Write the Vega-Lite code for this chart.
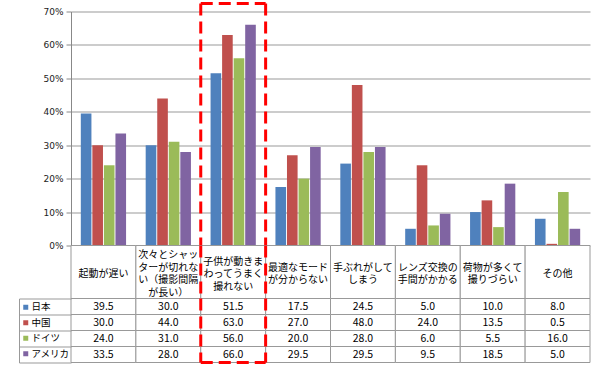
{
  "$schema": "https://vega.github.io/schema/vega-lite/v6.json",
  "background": "white",
  "padding": {"left": 18, "top": 1.5, "right": 5, "bottom": 4},
  "spacing": 0,
  "bounds": "flush",
  "datasets": {
    "d": [
      {"c": "起動が遅い", "s": "日本", "v": 39.5},
      {"c": "次々とシャッターが切れない（撮影間隔が長い）", "s": "日本", "v": 30.0},
      {"c": "子供が動きまわってうまく撮れない", "s": "日本", "v": 51.5},
      {"c": "最適なモードが分からない", "s": "日本", "v": 17.5},
      {"c": "手ぶれがしてしまう", "s": "日本", "v": 24.5},
      {"c": "レンズ交換の手間がかかる", "s": "日本", "v": 5.0},
      {"c": "荷物が多くて撮りづらい", "s": "日本", "v": 10.0},
      {"c": "その他", "s": "日本", "v": 8.0},
      {"c": "起動が遅い", "s": "中国", "v": 30.0},
      {"c": "次々とシャッターが切れない（撮影間隔が長い）", "s": "中国", "v": 44.0},
      {"c": "子供が動きまわってうまく撮れない", "s": "中国", "v": 63.0},
      {"c": "最適なモードが分からない", "s": "中国", "v": 27.0},
      {"c": "手ぶれがしてしまう", "s": "中国", "v": 48.0},
      {"c": "レンズ交換の手間がかかる", "s": "中国", "v": 24.0},
      {"c": "荷物が多くて撮りづらい", "s": "中国", "v": 13.5},
      {"c": "その他", "s": "中国", "v": 0.5},
      {"c": "起動が遅い", "s": "ドイツ", "v": 24.0},
      {"c": "次々とシャッターが切れない（撮影間隔が長い）", "s": "ドイツ", "v": 31.0},
      {"c": "子供が動きまわってうまく撮れない", "s": "ドイツ", "v": 56.0},
      {"c": "最適なモードが分からない", "s": "ドイツ", "v": 20.0},
      {"c": "手ぶれがしてしまう", "s": "ドイツ", "v": 28.0},
      {"c": "レンズ交換の手間がかかる", "s": "ドイツ", "v": 6.0},
      {"c": "荷物が多くて撮りづらい", "s": "ドイツ", "v": 5.5},
      {"c": "その他", "s": "ドイツ", "v": 16.0},
      {"c": "起動が遅い", "s": "アメリカ", "v": 33.5},
      {"c": "次々とシャッターが切れない（撮影間隔が長い）", "s": "アメリカ", "v": 28.0},
      {"c": "子供が動きまわってうまく撮れない", "s": "アメリカ", "v": 66.0},
      {"c": "最適なモードが分からない", "s": "アメリカ", "v": 29.5},
      {"c": "手ぶれがしてしまう", "s": "アメリカ", "v": 29.5},
      {"c": "レンズ交換の手間がかかる", "s": "アメリカ", "v": 9.5},
      {"c": "荷物が多くて撮りづらい", "s": "アメリカ", "v": 18.5},
      {"c": "その他", "s": "アメリカ", "v": 5.0}
    ],
    "cats": [
      {"c": "起動が遅い", "label": "起動が遅い", "hl": "no"},
      {"c": "次々とシャッターが切れない（撮影間隔が長い）", "label": "次々とシャッ\nターが切れな\nい（撮影間隔\nが長い）", "hl": "no"},
      {"c": "子供が動きまわってうまく撮れない", "label": "子供が動きま\nわってうまく\n撮れない", "hl": "edge"},
      {"c": "最適なモードが分からない", "label": "最適なモード\nが分からない", "hl": "edge"},
      {"c": "手ぶれがしてしまう", "label": "手ぶれがして\nしまう", "hl": "no"},
      {"c": "レンズ交換の手間がかかる", "label": "レンズ交換の\n手間がかかる", "hl": "no"},
      {"c": "荷物が多くて撮りづらい", "label": "荷物が多くて\n撮りづらい", "hl": "no"},
      {"c": "その他", "label": "その他", "hl": "no"}
    ]
  },
  "vconcat": [
    {
      "width": 519,
      "height": 234,
      "layer": [
        {
          "data": {"name": "d"},
          "mark": {"type": "bar"},
          "encoding": {
            "x": {"field": "c", "type": "nominal", "axis": null,
                  "scale": {"domain": ["起動が遅い", "次々とシャッターが切れない（撮影間隔が長い）", "子供が動きまわってうまく撮れない", "最適なモードが分からない", "手ぶれがしてしまう", "レンズ交換の手間がかかる", "荷物が多くて撮りづらい", "その他"], "paddingInner": 0, "paddingOuter": 0}},
            "xOffset": {"field": "s", "type": "nominal",
                        "scale": {"domain": ["日本", "中国", "ドイツ", "アメリカ"], "paddingInner": 0.08, "paddingOuter": 0.85}},
            "y": {"field": "v", "type": "quantitative", "title": null,
                  "scale": {"domain": [0, 70], "nice": false},
                  "axis": {"values": [0, 10, 20, 30, 40, 50, 60, 70], "labelExpr": "datum.value + '%'",
                           "labelFont": "DejaVu Sans", "labelFontSize": 9, "labelColor": "#222",
                           "tickColor": "#888", "tickSize": 5, "domainColor": "#888",
                           "gridColor": "#999", "labelPadding": 3, "title": null}},
            "color": {"field": "s", "type": "nominal",
                      "scale": {"domain": ["日本", "中国", "ドイツ", "アメリカ"], "range": ["#4f81bd", "#c0504d", "#9bbb59", "#8064a2"]},
                      "legend": {"orient": "none", "legendX": -50, "legendY": 291, "title": null,
                                 "symbolType": "square", "symbolSize": 25, "symbolStrokeWidth": 0,
                                 "labelFont": "Noto Sans CJK JP", "labelFontSize": 9.5, "labelColor": "#000",
                                 "rowPadding": 4.5, "labelOffset": 1}}
          }
        },
        {
          "data": {"name": "cats"},
          "transform": [{"filter": "datum.hl == 'edge'"}],
          "mark": {"type": "rule", "color": "#ff0000", "strokeWidth": 3, "strokeDash": [12, 6]},
          "encoding": {
            "x": {"field": "c", "type": "nominal", "bandPosition": 0},
            "y": {"datum": 72.4, "type": "quantitative", "title": null, "scale": {"domain": [0, 70], "nice": false},
                  "axis": {"values": [0, 10, 20, 30, 40, 50, 60, 70], "labelExpr": "datum.value + '%'",
                           "labelFont": "DejaVu Sans", "labelFontSize": 9, "labelColor": "#222",
                           "tickColor": "#888", "tickSize": 5, "domainColor": "#888",
                           "gridColor": "#999", "labelPadding": 3, "title": null}},
            "y2": {"datum": 0}
          }
        },
        {
          "data": {"name": "cats"},
          "transform": [{"filter": "datum.hl == 'edge'"}],
          "mark": {"type": "line", "color": "#ff0000", "strokeWidth": 3, "strokeDash": [12, 6], "strokeJoin": "bevel"},
          "encoding": {
            "x": {"field": "c", "type": "nominal", "bandPosition": 0},
            "y": {"datum": 72.4, "type": "quantitative", "title": null, "scale": {"domain": [0, 70], "nice": false},
                  "axis": {"values": [0, 10, 20, 30, 40, 50, 60, 70], "labelExpr": "datum.value + '%'",
                           "labelFont": "DejaVu Sans", "labelFontSize": 9, "labelColor": "#222",
                           "tickColor": "#888", "tickSize": 5, "domainColor": "#888",
                           "gridColor": "#999", "labelPadding": 3, "title": null}}
          }
        }
      ]
    },
    {
      "width": 519,
      "height": 53,
      "data": {"name": "cats"},
      "encoding": {
        "x": {"field": "c", "type": "nominal", "axis": null,
              "scale": {"domain": ["起動が遅い", "次々とシャッターが切れない（撮影間隔が長い）", "子供が動きまわってうまく撮れない", "最適なモードが分からない", "手ぶれがしてしまう", "レンズ交換の手間がかかる", "荷物が多くて撮りづらい", "その他"], "paddingInner": 0, "paddingOuter": 0}}
      },
      "layer": [
        {"mark": {"type": "bar", "fill": "white", "stroke": "#999", "strokeWidth": 1}},
        {"mark": {"type": "text", "lineBreak": "\n", "lineHeight": 12.5, "fontSize": 10, "font": "Noto Sans CJK JP", "color": "#000", "baseline": "middle",
                  "dy": {"expr": "2 - (length(split(datum.label, '\\n')) - 1) * 6.25"}},
         "encoding": {"text": {"field": "label"}}},
        {"transform": [{"filter": "datum.hl == 'edge'"}],
         "mark": {"type": "rule", "color": "#ff0000", "strokeWidth": 3, "strokeDash": [12, 6]},
         "encoding": {"x": {"field": "c", "type": "nominal", "bandPosition": 0}}}
      ]
    },
    {
      "width": 519,
      "height": 64,
      "data": {"name": "d"},
      "encoding": {
        "x": {"field": "c", "type": "nominal", "axis": null,
              "scale": {"domain": ["起動が遅い", "次々とシャッターが切れない（撮影間隔が長い）", "子供が動きまわってうまく撮れない", "最適なモードが分からない", "手ぶれがしてしまう", "レンズ交換の手間がかかる", "荷物が多くて撮りづらい", "その他"], "paddingInner": 0, "paddingOuter": 0}},
        "y": {"field": "s", "type": "nominal", "title": null,
              "scale": {"domain": ["日本", "中国", "ドイツ", "アメリカ"], "paddingInner": 0, "paddingOuter": 0},
              "axis": {"labels": false, "offset": 52, "domainColor": "#999", "tickColor": "#999",
                       "bandPosition": 1, "tickExtra": true, "tickSize": -52}}
      },
      "layer": [
        {"mark": {"type": "rect", "fill": "white", "stroke": "#999", "strokeWidth": 1}},
        {"mark": {"type": "text", "fontSize": 10.5, "font": "Noto Sans CJK JP", "color": "#000"},
         "encoding": {"text": {"field": "v", "type": "quantitative", "format": ".1f"}}},
        {"data": {"name": "cats"},
         "transform": [{"filter": "datum.hl == 'edge'"}],
         "mark": {"type": "rule", "color": "#ff0000", "strokeWidth": 3, "strokeDash": [12, 6]},
         "encoding": {"x": {"field": "c", "type": "nominal", "bandPosition": 0}, "y": null}},
        {"data": {"name": "cats"},
         "transform": [{"filter": "datum.hl == 'edge'"}],
         "mark": {"type": "line", "color": "#ff0000", "strokeWidth": 3, "strokeDash": [12, 6], "strokeJoin": "bevel"},
         "encoding": {"x": {"field": "c", "type": "nominal", "bandPosition": 0},
                      "y": {"datum": "アメリカ", "type": "nominal", "bandPosition": 1}}}
      ]
    }
  ],
  "config": {"view": {"stroke": null}}
}
